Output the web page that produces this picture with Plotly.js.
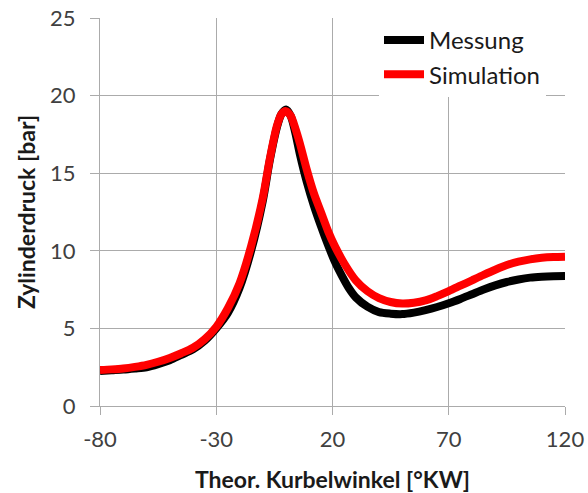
<!DOCTYPE html>
<html>
<head>
<meta charset="utf-8">
<script src="https://cdn.plot.ly/plotly-3.0.1.min.js"></script>
<style>html,body{margin:0;padding:0;background:#fff;}#chart{width:588px;height:493px;}</style>
</head>
<body>
<div id="chart"></div>
<script>
// Messung (measured) cylinder pressure
const angleMessung = [-80,-75,-70,-65,-60,-55,-50,-45,-40,-35,-30,-25,-20,-15,-10,-7,-4,-2,0,2,4,6,9,12,15,18,21,24,27,30,35,40,45,50,55,60,65,70,75,80,85,90,95,100,105,110,115,120];
const pressureMessung = [2.25,2.3,2.35,2.42,2.5,2.7,2.95,3.3,3.65,4.2,5.0,6.0,7.6,10.0,13.2,15.8,17.9,18.8,19.1,18.7,17.6,16.2,14.4,12.9,11.6,10.4,9.3,8.4,7.6,7.0,6.4,6.05,5.95,5.92,6.02,6.18,6.38,6.62,6.9,7.2,7.5,7.77,7.99,8.15,8.27,8.33,8.36,8.37];
// Simulation
const angleSimulation = [-80,-75,-70,-65,-60,-55,-50,-45,-40,-35,-30,-25,-20,-15,-10,-7,-4,-2,0,2,4,6,9,12,15,18,21,25,30,35,40,45,50,55,60,65,70,75,80,85,90,95,100,105,110,115,120];
const pressureSimulation = [2.32,2.36,2.42,2.52,2.65,2.85,3.1,3.4,3.75,4.3,5.1,6.3,7.9,10.3,13.4,15.9,18.0,18.8,19.0,18.7,17.9,16.9,15.2,13.7,12.5,11.3,10.3,9.2,8.1,7.4,6.95,6.7,6.6,6.65,6.8,7.08,7.4,7.75,8.1,8.45,8.78,9.08,9.3,9.45,9.55,9.6,9.62];
const xTicks = [-80,-30,20,70,120];
const yTicks = [0,5,10,15,20,25];

const traces = [
  {x: angleMessung, y: pressureMessung, name: 'Messung', type: 'scatter', mode: 'lines',
   line: {color: '#000000', width: 8, shape: 'spline', smoothing: 0.8}},
  {x: angleSimulation, y: pressureSimulation, name: 'Simulation', type: 'scatter', mode: 'lines',
   line: {color: '#ff0000', width: 8, shape: 'spline', smoothing: 0.8}}
];

const gridC = '#ababab';
const layout = {
  width: 588, height: 493,
  margin: {l: 100, r: 23, t: 18, b: 87},
  paper_bgcolor: '#ffffff', plot_bgcolor: '#ffffff',
  font: {family: 'Lato, "Open Sans", sans-serif', size: 22, color: '#404040'},
  showlegend: true,
  legend: {x: 0.6, y: 1.0, xanchor: 'left', yanchor: 'top', bgcolor: '#ffffff',
           font: {size: 24, color: '#1a1a1a'}, tracegroupgap: 0, itemwidth: 40},
  xaxis: {range: [-80, 120], tickvals: xTicks, ticktext: xTicks.map(String),
          showgrid: true, gridcolor: gridC, gridwidth: 1, zeroline: false,
          showline: true, linecolor: gridC, linewidth: 1,
          ticks: 'outside', ticklen: 8, tickcolor: gridC, ticklabelstandoff: 6,
          tickfont: {size: 22, color: '#404040'},
          title: {text: '<b>Theor. Kurbelwinkel [°KW]</b>', font: {size: 23, color: '#1a1a1a'}, standoff: 22}},
  yaxis: {range: [0, 25], tickvals: yTicks, ticktext: yTicks.map(String),
          showgrid: true, gridcolor: gridC, gridwidth: 1, zeroline: false,
          showline: true, linecolor: gridC, linewidth: 1,
          ticks: 'outside', ticklen: 9, tickcolor: gridC, ticklabelstandoff: 10,
          tickfont: {size: 22, color: '#404040'},
          title: {text: '<b>Zylinderdruck [bar]</b>', font: {size: 23, color: '#1a1a1a'}, standoff: 8}}
};

Plotly.newPlot('chart', traces, layout, {displayModeBar: false, staticPlot: true});
</script>
</body>
</html>
